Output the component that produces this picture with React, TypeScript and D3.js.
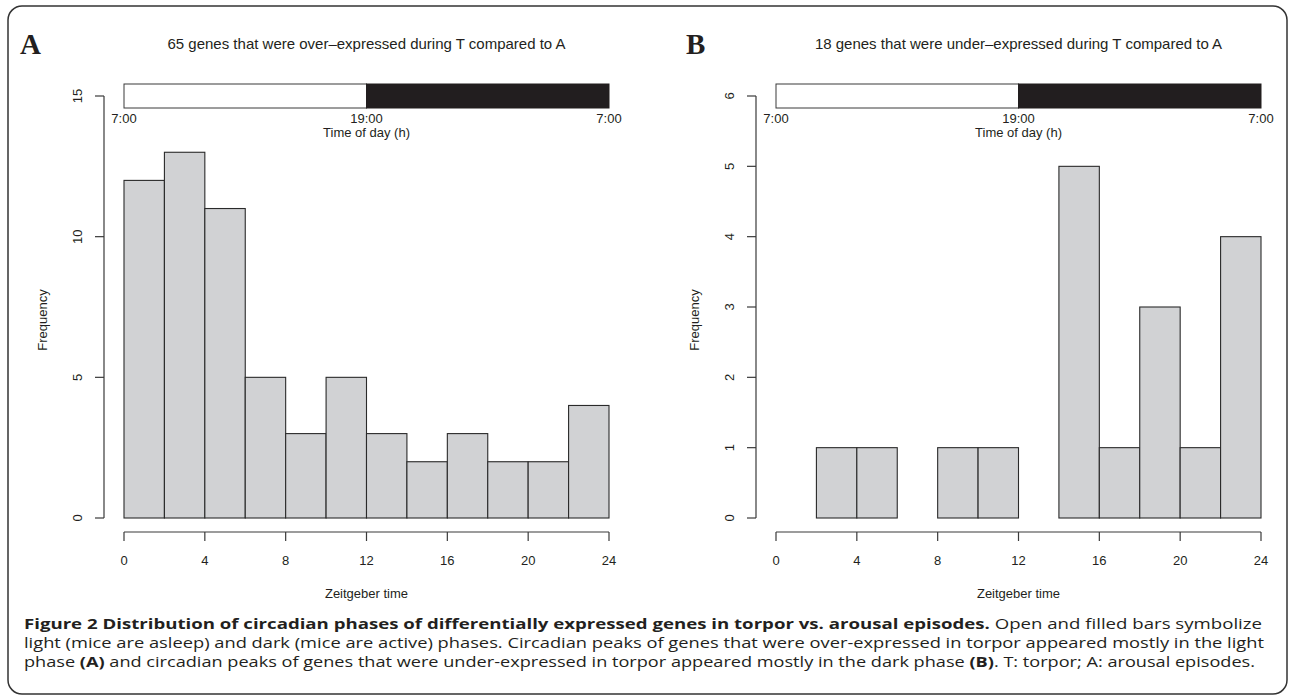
import React from "react";
import * as d3 from "d3";

// histogram bin edges (Zeitgeber time, h)
const binEdges = [0, 2, 4, 6, 8, 10, 12, 14, 16, 18, 20, 22, 24];
const countsA = [12, 13, 11, 5, 3, 5, 3, 2, 3, 2, 2, 4];
const countsB = [0, 1, 1, 0, 1, 1, 0, 5, 1, 3, 1, 4];
const xTicks = [0, 4, 8, 12, 16, 20, 24];
const yTicksA = [0, 5, 10, 15];
const yTicksB = [0, 1, 2, 3, 4, 5, 6];
const dayLabels = ["7:00", "19:00", "7:00"];
const dayLabelPos = [0, 12, 24];

const AXIS = "#3a3a3a";
const TXT = "#231f20";
const SANS = "'Liberation Sans', Arial, Helvetica, sans-serif";

interface PanelProps {
  letter: string;
  letterX: number;
  title: string;
  counts: number[];
  yMax: number;
  yTicks: number[];
  left: number; // x position of the y axis line
}

const Panel: React.FC<PanelProps> = ({ letter, letterX, title, counts, yMax, yTicks, left }) => {
  const x = d3.scaleLinear().domain([0, 24]).range([left + 20, left + 505]);
  const y = d3.scaleLinear().domain([0, yMax]).range([518, 96]);
  const xAxisY = 532;
  const mid = (x(0) + x(24)) / 2;

  return (
    <g>
      <text x={letterX} y={54} fontFamily="'Liberation Serif', 'Times New Roman', serif" fontWeight="bold" fontSize={29} fill={TXT}>
        {letter}
      </text>
      <text x={mid} y={49} textAnchor="middle" fontFamily={SANS} fontSize={15} fill={TXT}>
        {title}
      </text>

      {/* light / dark bar */}
      <rect x={x(0)} y={y(yMax) - 12} width={x(12) - x(0)} height={24} fill="#fff" stroke={AXIS} strokeWidth={1} />
      <rect x={x(12)} y={y(yMax) - 12} width={x(24) - x(12)} height={24} fill="#221e1f" stroke="#221e1f" strokeWidth={1} />
      {dayLabels.map((d, i) => (
        <text key={i} x={x(dayLabelPos[i])} y={123} textAnchor="middle" fontFamily={SANS} fontSize={13} fill={TXT}>
          {d}
        </text>
      ))}
      <text x={mid} y={137} textAnchor="middle" fontFamily={SANS} fontSize={13} fill={TXT}>
        Time of day (h)
      </text>

      {/* histogram bars */}
      {counts.map((c, i) =>
        c > 0 ? (
          <rect
            key={i}
            x={x(binEdges[i])}
            y={y(c)}
            width={x(binEdges[i + 1]) - x(binEdges[i])}
            height={y(0) - y(c)}
            fill="#d1d2d4"
            stroke="#2a2a2a"
            strokeWidth={1.1}
          />
        ) : null
      )}

      {/* y axis */}
      <line x1={left} x2={left} y1={y(0)} y2={y(yMax)} stroke={AXIS} strokeWidth={1.2} />
      {yTicks.map((t) => (
        <g key={t}>
          <line x1={left - 9} x2={left} y1={y(t)} y2={y(t)} stroke={AXIS} strokeWidth={1.2} />
          <text
            transform={`translate(${left - 27},${y(t)}) rotate(-90)`}
            textAnchor="middle"
            dy="0.35em"
            fontFamily={SANS}
            fontSize={13}
            fill={TXT}
          >
            {t}
          </text>
        </g>
      ))}
      <text
        transform={`translate(${left - 62},320) rotate(-90)`}
        textAnchor="middle"
        dy="0.35em"
        fontFamily={SANS}
        fontSize={13}
        fill={TXT}
      >
        Frequency
      </text>

      {/* x axis */}
      <line x1={x(0)} x2={x(24)} y1={xAxisY} y2={xAxisY} stroke={AXIS} strokeWidth={1.2} />
      {xTicks.map((t) => (
        <g key={t}>
          <line x1={x(t)} x2={x(t)} y1={xAxisY} y2={xAxisY + 9} stroke={AXIS} strokeWidth={1.2} />
          <text x={x(t)} y={565} textAnchor="middle" fontFamily={SANS} fontSize={13} fill={TXT}>
            {t}
          </text>
        </g>
      ))}
      <text x={mid} y={598} textAnchor="middle" fontFamily={SANS} fontSize={13} fill={TXT}>
        Zeitgeber time
      </text>
    </g>
  );
};

const CAP = "'Open Sans', 'Noto Sans', sans-serif";

const App: React.FC = () => {
  return (
    <svg width={1292} height={698} style={{ position: "absolute", left: 0, top: 0, background: "#fff" }}>
      <rect x={8} y={6} width={1279} height={688} rx={14} fill="#fff" stroke="#333" strokeWidth={1.5} />
      <Panel
        letter="A"
        letterX={20}
        title="65 genes that were over‒expressed during T compared to A"
        counts={countsA}
        yMax={15}
        yTicks={yTicksA}
        left={104}
      />
      <Panel
        letter="B"
        letterX={686}
        title="18 genes that were under‒expressed during T compared to A"
        counts={countsB}
        yMax={6}
        yTicks={yTicksB}
        left={756}
      />

      {/* caption */}
      <g fontFamily={CAP} fontSize={15} fill="#231f20">
        <text x={24} y={629} textLength={1238} lengthAdjust="spacingAndGlyphs">
          <tspan fontWeight="bold">
            Figure 2 Distribution of circadian phases of differentially expressed genes in torpor vs. arousal episodes.
          </tspan>
          <tspan> Open and filled bars symbolize</tspan>
        </text>
        <text x={24} y={648} textLength={1240} lengthAdjust="spacingAndGlyphs">
          light (mice are asleep) and dark (mice are active) phases. Circadian peaks of genes that were over-expressed in torpor appeared mostly in the light
        </text>
        <text x={24} y={667} textLength={1231} lengthAdjust="spacingAndGlyphs">
          <tspan>phase </tspan>
          <tspan fontWeight="bold">(A)</tspan>
          <tspan> and circadian peaks of genes that were under-expressed in torpor appeared mostly in the dark phase </tspan>
          <tspan fontWeight="bold">(B)</tspan>
          <tspan>. T: torpor; A: arousal episodes.</tspan>
        </text>
      </g>
    </svg>
  );
};

export default App;
